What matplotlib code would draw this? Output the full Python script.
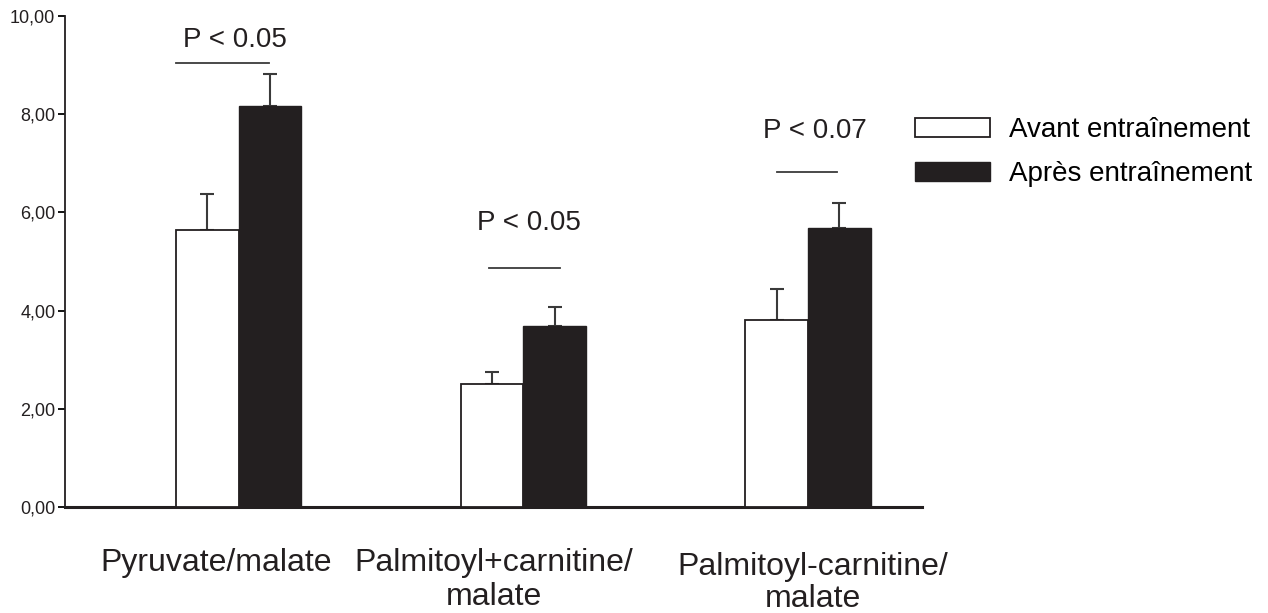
import matplotlib.pyplot as plt
import numpy as np

plt.rcParams['font.family'] = ['Liberation Sans', 'DejaVu Sans']

# region data
groups = ["Pyruvate/malate", "Palmitoyl+carnitine/\nmalate", "Palmitoyl-carnitine/\nmalate"]
avant = [5.64, 2.50, 3.81]
avant_err = [0.73, 0.25, 0.63]
apres = [8.17, 3.69, 5.68]
apres_err = [0.65, 0.38, 0.51]
p_labels = ["P < 0.05", "P < 0.05", "P < 0.07"]
p_line_y = [9.04, 4.87, 6.82]
y_ticks = [0, 2, 4, 6, 8, 10]
# endregion

DARK = '#231f20'
WIDTH = 0.22
W, H = 1268, 613

fig = plt.figure(figsize=(W / 100, H / 100), dpi=100)
ax = fig.add_axes([65 / W, 1 - 507 / H, (922 - 65) / W, (507 - 16) / H])

x = np.arange(len(groups))
ax.bar(x - WIDTH / 2, avant, WIDTH, color='white', edgecolor=DARK, linewidth=1.3,
       label='Avant entraînement', zorder=3)
ax.bar(x + WIDTH / 2, apres, WIDTH, color=DARK, edgecolor=DARK, linewidth=1.0,
       label='Après entraînement', zorder=3)
ax.errorbar(x - WIDTH / 2, avant, yerr=[np.zeros(3), avant_err], fmt='none',
            ecolor='#3a3a3a', elinewidth=1.5, capsize=5, capthick=1.5, zorder=2)
ax.errorbar(x + WIDTH / 2, apres, yerr=[np.zeros(3), apres_err], fmt='none',
            ecolor='#3a3a3a', elinewidth=1.5, capsize=5, capthick=1.5, zorder=2)

# significance lines and labels (offsets relative to group centre)
line_x = [(-0.22, 0.105), (-0.12, 0.13), (-0.11, 0.10)]
text_dx = [-0.013, 0.02, 0.025]
text_y = [9.37, 5.64, 7.52]
for i in range(len(groups)):
    x0, x1 = line_x[i]
    ax.plot([i + x0, i + x1], [p_line_y[i]] * 2, color='#3a3a3a', lw=1.3)
    ax.text(i + text_dx[i], text_y[i], p_labels[i], ha='center',
            va='baseline', fontsize=20, color=DARK)

ax.set_xlim(-0.61, 2.40)
ax.set_ylim(0, 10)
ax.set_yticks(y_ticks)
ax.set_yticklabels(["{:.2f}".format(v).replace('.', ',') for v in y_ticks],
                   fontsize=13, color=DARK)
ax.tick_params(axis='y', direction='out', length=5, width=1.3, pad=2)
ax.set_xticks([])
for s in ['top', 'right']:
    ax.spines[s].set_visible(False)
ax.spines['left'].set_linewidth(1.3)
ax.spines['bottom'].set_linewidth(2.2)
ax.spines['left'].set_color(DARK)
ax.spines['bottom'].set_color(DARK)

# category labels below the axis (pixel positions: centre x, baselines)
cat_x = [216, 494, 813]
cat_base = [(571,), (571, 605), (575, 607)]
for i, name in enumerate(groups):
    for line, by in zip(name.split('\n'), cat_base[i]):
        fig.text(cat_x[i] / W, 1 - by / H, line, ha='center', va='baseline',
                 fontsize=23, color=DARK)

fig.legend(loc='upper left', bbox_to_anchor=(915 / W, 1 - 117 / H),
           frameon=False, fontsize=20, handlelength=2.7, handleheight=0.7,
           labelspacing=0.66, handletextpad=0.7, borderaxespad=0, borderpad=0)

fig.savefig('out.png', dpi=100)
